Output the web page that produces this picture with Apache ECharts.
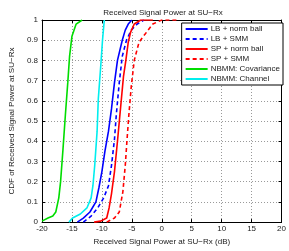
<!doctype html>
<html>
<head>
<meta charset="utf-8">
<title>Received Signal Power at SU-Rx</title>
<style>
  html, body { margin: 0; padding: 0; background: #fff; }
  #chart { width: 289px; height: 251px; }
</style>
</head>
<body>
<div id="chart"></div>
<script src="https://cdn.jsdelivr.net/npm/echarts@6/dist/echarts.min.js"></script>
<script>
// series names
var names = ['LB + norm ball', 'LB + SMM', 'SP + norm ball', 'SP + SMM', 'NBMM: Covariance', 'NBMM: Channel'];

// CDF curves: [power dB, cdf]
var lbNorm = [[-14.1,0],[-13.1,0.02],[-12,0.05],[-11,0.1],[-10.5,0.17],[-10,0.25],[-9.5,0.35],[-8.9,0.45],[-8.4,0.56],[-7.9,0.69],[-7.4,0.8],[-6.6,0.9],[-6.1,0.95],[-5.6,0.98],[-5,1]];
var lbSmm = [[-13.1,0],[-11.8,0.03],[-10.7,0.07],[-9.7,0.12],[-8.9,0.18],[-8.4,0.28],[-7.9,0.41],[-7.6,0.53],[-7.1,0.69],[-6.6,0.82],[-5.9,0.9],[-5.1,0.95],[-4.1,0.98],[-3,1]];
var spNorm = [[-11.3,0],[-10.2,0.005],[-9.2,0.02],[-8.8,0.07],[-8.4,0.14],[-7.9,0.25],[-7.4,0.4],[-6.9,0.56],[-6.4,0.72],[-6,0.8],[-5.6,0.89],[-5.2,0.94],[-4.6,0.98],[-3.5,1],[-1.5,1]];
var spSmm = [[-9.2,0],[-7.9,0.02],[-7.1,0.05],[-6.5,0.15],[-6.1,0.28],[-5.8,0.41],[-5.5,0.53],[-5.1,0.67],[-4.6,0.8],[-3.8,0.89],[-2.8,0.93],[-1.5,0.98],[0,1],[2.6,1]];
var nbmmCov = [[-20,0.005],[-19,0.02],[-18.2,0.03],[-17.7,0.05],[-17.2,0.12],[-16.9,0.2],[-16.5,0.36],[-16.1,0.53],[-15.7,0.69],[-15.4,0.82],[-15,0.92],[-14.3,0.98],[-13.3,1]];
var nbmmChan = [[-15.5,0],[-14.9,0.02],[-13.6,0.04],[-12.5,0.07],[-11.8,0.12],[-11.5,0.18],[-11.2,0.28],[-10.8,0.45],[-10.6,0.61],[-10.2,0.77],[-9.9,0.9],[-9.6,1]];

var xTicks = [-20, -15, -10, -5, 0, 5, 10, 15, 20];
var yTicks = [0, 0.1, 0.2, 0.3, 0.4, 0.5, 0.6, 0.7, 0.8, 0.9, 1];

var chart = echarts.init(document.getElementById('chart'));

function line(name, data, color, dashed) {
  return {
    name: name,
    type: 'line',
    data: data,
    symbol: 'none',
    smooth: false,
    lineStyle: { color: color, width: 1.6, type: dashed ? [4, 3] : 'solid' },
    itemStyle: { color: color },
    z: 3
  };
}

var fontFam = 'Liberation Sans, Arial, sans-serif';
var gridLine = { show: true, lineStyle: { color: '#999', type: [1, 2], width: 1 } };
var frame = { show: true, onZero: false, lineStyle: { color: '#000', width: 1 } };
var ticksIn = { show: true, inside: true, length: 3, lineStyle: { color: '#000' } };

option = {
  animation: false,
  backgroundColor: '#fff',
  title: {
    text: 'Received Signal Power at SU\u2212Rx',
    left: 158, top: 4, textAlign: 'center',
    textStyle: { fontSize: 8, fontWeight: 'normal', color: '#222', fontFamily: fontFam }
  },
  grid: { left: 27, right: 3, top: 20, bottom: 27 },
  legend: {
    orient: 'vertical',
    right: 6, top: 23,
    itemWidth: 22, itemHeight: 8, itemGap: 2,
    padding: [2, 3, 2, 3],
    backgroundColor: '#fff',
    borderColor: '#000', borderWidth: 1,
    itemStyle: { opacity: 0 },
    textStyle: { fontSize: 8, color: '#222', fontFamily: fontFam, padding: [0, 0, 0, -2] },
    data: names
  },
  xAxis: [{
    type: 'value', min: xTicks[0], max: xTicks[xTicks.length - 1], interval: 5,
    name: 'Received Signal Power at SU\u2212Rx (dB)',
    nameLocation: 'middle', nameGap: 13,
    nameTextStyle: { fontSize: 8, color: '#222', fontFamily: fontFam },
    axisLine: frame, axisTick: ticksIn,
    axisLabel: { fontSize: 8, color: '#222', margin: 3, fontFamily: fontFam },
    splitLine: gridLine
  }, {
    type: 'value', position: 'top', min: -20, max: 20, interval: 5,
    axisLine: frame, axisTick: ticksIn,
    axisLabel: { show: false }, splitLine: { show: false }
  }],
  yAxis: [{
    type: 'value', min: yTicks[0], max: yTicks[yTicks.length - 1], interval: 0.1,
    name: 'CDF of Received Signal Power at SU\u2212Rx',
    nameLocation: 'middle', nameGap: 18,
    nameTextStyle: { fontSize: 8, color: '#222', fontFamily: fontFam },
    axisLine: frame, axisTick: ticksIn,
    axisLabel: { fontSize: 8, color: '#222', margin: 4, fontFamily: fontFam,
      formatter: function (v) { return String(Math.round(v * 10) / 10); } },
    splitLine: gridLine
  }, {
    type: 'value', position: 'right', min: 0, max: 1, interval: 0.1,
    axisLine: frame, axisTick: ticksIn,
    axisLabel: { show: false }, splitLine: { show: false }
  }],
  series: [
    line(names[0], lbNorm, '#0000ff', false),
    line(names[1], lbSmm, '#0000ff', true),
    line(names[2], spNorm, '#ff0000', false),
    line(names[3], spSmm, '#ff0000', true),
    line(names[4], nbmmCov, '#00dd00', false),
    line(names[5], nbmmChan, '#00eeee', false)
  ]
};
chart.setOption(option);
</script>
</body>
</html>
